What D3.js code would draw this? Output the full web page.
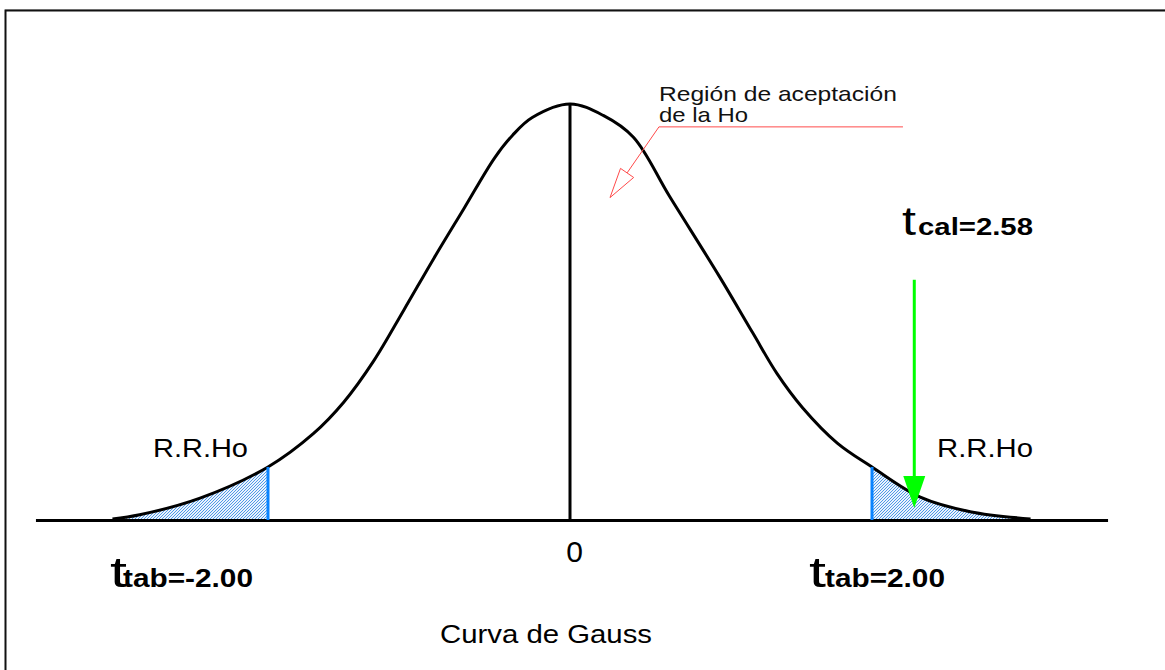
<!DOCTYPE html>
<html>
<head>
<meta charset="utf-8">
<script src="https://cdn.jsdelivr.net/npm/d3@7"></script>
<style>
  html, body { margin: 0; padding: 0; background: #fff; }
  svg { display: block; font-family: "Liberation Sans", Arial, sans-serif; }
</style>
</head>
<body>
<svg id="chart" width="1165" height="670"></svg>
<script>
// ---- data ----
const curveT = [-3.03, -2.85, -2.45, -2.00, -1.70, -1.50, -1.30, -1.10, -0.90, -0.70, -0.50, -0.38, -0.25, 0.00,
                 0.22, 0.42, 0.66, 0.99, 1.21, 1.37, 1.54, 1.77, 2.00, 2.32, 2.65, 3.05];
const curveD = [0.001, 0.005, 0.021, 0.051, 0.083, 0.113, 0.153, 0.202, 0.252, 0.300, 0.348, 0.370, 0.387, 0.400,
                0.389, 0.368, 0.311, 0.234, 0.180, 0.141, 0.108, 0.074, 0.051, 0.022, 0.008, 0.001];
const criticalT = [-2.00, 2.00];
const criticalLabels = ["tab=-2.00", "tab=2.00"];
const tcalValue = 2.58;
const tcalLabel = "cal=2.58";
const tcalArrowT = 2.28;            // where the green arrow is drawn in the picture
const tcalArrowD = [0.231, 0.0115]; // arrow top / tip (density units)
const axisExtent = [-3.54, 3.56];
const centerTick = [0];
const regionLabel = ["Región de aceptación", "de la Ho"];
const rejectLabel = "R.R.Ho";
const title = "Curva de Gauss";
// acceptance-region leader: start of horizontal, end of horizontal, arrow tip (t, d)
const leaderT = [0.589, 2.205, 0.265];
const leaderD = [0.378, 0.378, 0.310];

const svg = d3.select("#chart");
const x = d3.scaleLinear().domain([-3, 3]).range([117, 1023]);
const y = d3.scaleLinear().domain([0, 0.4]).range([520, 104]);

const pts = curveT.map((t, i) => ({t, d: curveD[i]}));

// frame
svg.append("line").attr("x1", 5).attr("x2", 1165).attr("y1", 9.5).attr("y2", 9.5)
   .attr("stroke", "#ccc").attr("stroke-width", 1);
svg.append("path").attr("d", "M5.5,670 V10.5 H1165")
   .attr("fill", "none").attr("stroke", "#111").attr("stroke-width", 2);

// hatch pattern
const defs = svg.append("defs");
const pat = defs.append("pattern").attr("id", "hatch").attr("patternUnits", "userSpaceOnUse")
  .attr("width", 3).attr("height", 3);
pat.append("rect").attr("width", 3).attr("height", 3).attr("fill", "#eaf3fd");
pat.append("path").attr("d", "M-1,1 l2,-2 M0,3 l3,-3 M2,4 l2,-2")
  .attr("stroke", "#3f8fe3").attr("stroke-width", 0.9);

const curve = d3.curveCatmullRom.alpha(0.5);
const line = d3.line().x(p => x(p.t)).y(p => y(p.d)).curve(curve);
const area = d3.area().x(p => x(p.t)).y0(y(0)).y1(p => y(p.d)).curve(curve);

// shaded rejection regions
svg.append("path").datum(pts.filter(p => p.t <= criticalT[0]))
  .attr("d", area).attr("fill", "url(#hatch)");
svg.append("path").datum(pts.filter(p => p.t >= criticalT[1]))
  .attr("d", area).attr("fill", "url(#hatch)");

// axis
const axScale = x.copy().domain(axisExtent).range(axisExtent.map(x));
const axG = svg.append("g").attr("transform", `translate(0,${y(0)})`)
  .call(d3.axisBottom(axScale).tickValues(centerTick).tickSize(0).tickSizeOuter(0).tickFormat(d3.format("d")));
axG.select(".domain").attr("stroke", "#000").attr("stroke-width", 3);
axG.selectAll(".tick text")
  .attr("font-family", "Liberation Sans, Arial, sans-serif")
  .attr("font-size", 30).attr("fill", "#000")
  .attr("dy", null).attr("y", 42).attr("x", 4);

// curve
svg.append("path").datum(pts).attr("d", line)
  .attr("fill", "none").attr("stroke", "#000").attr("stroke-width", 3).attr("stroke-linejoin", "round");

// center line
svg.append("line").attr("x1", x(0)).attr("x2", x(0)).attr("y1", y(0)).attr("y2", y(d3.max(curveD)))
  .attr("stroke", "#000").attr("stroke-width", 3);

// critical blue lines
const dAt = t => curveD[curveT.indexOf(t)];
criticalT.forEach(t => {
  svg.append("line").attr("x1", x(t)).attr("x2", x(t)).attr("y1", y(0)).attr("y2", y(dAt(t)))
    .attr("stroke", "#0a84ff").attr("stroke-width", 3);
});

// green arrow
const gx = x(tcalArrowT), gTop = y(tcalArrowD[0]), gTip = y(tcalArrowD[1]);
svg.append("line").attr("x1", gx).attr("x2", gx).attr("y1", gTop).attr("y2", gTip - 30)
  .attr("stroke", "#00ff00").attr("stroke-width", 3);
svg.append("path").attr("d", `M${gx - 11},${gTip - 32} L${gx + 11},${gTip - 32} L${gx},${gTip} Z`)
  .attr("fill", "#00ff00");

// red leader for acceptance region
const L = leaderT.map((t, i) => [x(t), y(leaderD[i])]);
svg.append("path").attr("d", `M${L[1][0]},${L[1][1]} H${L[0][0]}`)
  .attr("stroke", "#ff4a4a").attr("stroke-width", 1).attr("fill", "none");
{
  const tip = L[2], start = L[0];
  const dx = start[0] - tip[0], dy = start[1] - tip[1];
  const len = Math.hypot(dx, dy), ux = dx / len, uy = dy / len;
  const hl = 30, hw = 8;
  const bx = tip[0] + ux * hl, by = tip[1] + uy * hl;
  svg.append("line").attr("x1", start[0]).attr("y1", start[1]).attr("x2", bx).attr("y2", by)
    .attr("stroke", "#ff4a4a").attr("stroke-width", 1);
  svg.append("path")
    .attr("d", `M${tip[0]},${tip[1]} L${bx - uy * hw},${by + ux * hw} L${bx + uy * hw},${by - ux * hw} Z`)
    .attr("fill", "none").attr("stroke", "#ff4a4a").attr("stroke-width", 1);
}

// texts
function txt(s, px, py, size, len, weight) {
  const t = svg.append("text").attr("x", px).attr("y", py).attr("font-size", size)
    .attr("fill", "#000").text(s);
  if (weight) t.attr("font-weight", weight);
  if (len) t.attr("textLength", len).attr("lengthAdjust", "spacingAndGlyphs");
  return t;
}
txt(regionLabel[0], L[0][0], 101, 21, 238).attr("fill", "#111");
txt(regionLabel[1], L[0][0], 122, 21, 89).attr("fill", "#111");
txt(rejectLabel, 153, 457, 25, 95);
txt(rejectLabel, 937, 457, 25, 96);
txt(title, 440, 643, 25, 212);

// ttab labels
const tabX = [[110, 123, 130], [809, 825, 120]];
criticalT.forEach((t, i) => {
  txt("t", tabX[i][0], 587, 42, 17);
  txt(criticalLabels[i], tabX[i][1], 587, 26, tabX[i][2], "bold");
});
// tcal label
txt("t", 902, 235, 40, 14);
txt(tcalLabel, 918, 235, 24, 115, "bold");
</script>
</body>
</html>
